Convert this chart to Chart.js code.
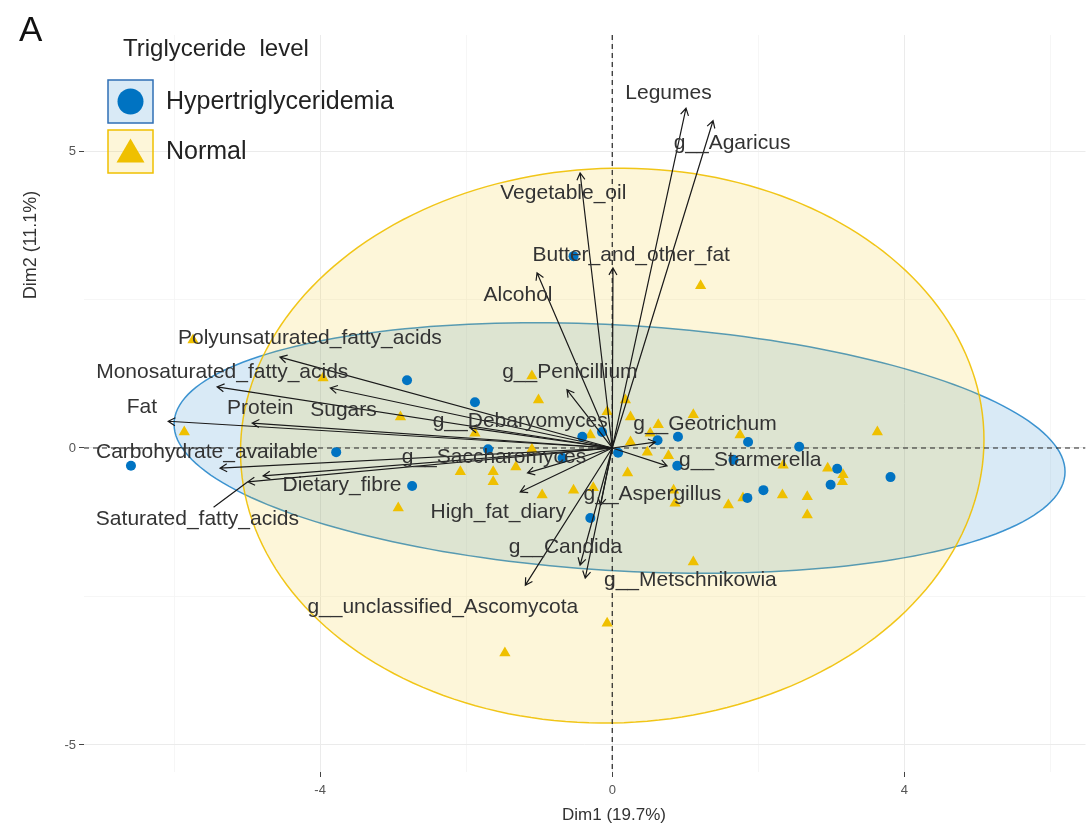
<!DOCTYPE html>
<html>
<head>
<meta charset="utf-8">
<script src="https://cdn.jsdelivr.net/npm/chart.js@4.4.1/dist/chart.umd.min.js"></script>
<style>
  html, body { margin: 0; padding: 0; background: #fff; }
  #wrap { width: 1092px; height: 830px; }
</style>
</head>
<body>
<div id="wrap"><canvas id="biplot" width="1092" height="830"></canvas></div>
<script>
// individuals (Dim1, Dim2)
const hyperX = [-6.59, -0.53, -2.81, -1.88, -3.78, -2.74, -0.30, -1.70, -0.68, -0.41, -0.14, 0.08,
  0.62, 0.90, 0.89, 1.66, 1.86, 2.56, 3.08, 2.99, 3.81, 2.07, 1.85];
const hyperY = [-0.30, 3.23, 1.14, 0.77, -0.07, -0.64, -1.18, -0.02, -0.17, 0.19, 0.27, -0.08,
  0.13, 0.19, -0.30, -0.20, 0.10, 0.02, -0.35, -0.62, -0.49, -0.71, -0.84];
const normalX = [1.21, -5.86, -5.74, -3.96, -2.90, -1.88, -2.08, -2.93, -1.10, -1.01, -1.10, -1.63,
  -1.63, -1.32, -0.96, -0.53, -0.26, 0.21, 0.84, 0.86, -0.07, 0.18, 0.25, 0.63, 0.52, 0.25, 0.48,
  0.77, -0.30, 1.11, 1.75, 3.63, 2.34, 2.95, 3.16, 3.15, 2.33, 2.67, 2.67, 1.79, 1.59, 1.11, -0.07, -1.47];
const normalY = [2.73, 0.27, 1.82, 1.18, 0.52, 0.25, -0.40, -1.01, 1.21, 0.81, -0.02, -0.40,
  -0.57, -0.32, -0.79, -0.71, -0.67, -0.42, -0.71, -0.93, 0.61, 0.81, 0.52, 0.39, 0.25, 0.10, -0.07,
  -0.13, 0.22, 0.56, 0.22, 0.27, -0.29, -0.34, -0.45, -0.57, -0.79, -0.82, -1.13, -0.84, -0.96, -1.92, -2.95, -3.45];

// variables (arrow tips) and where their labels sit
const varNames = ['Legumes', 'g__Agaricus', 'Vegetable_oil', 'Butter_and_other_fat', 'Alcohol',
  'g__Penicillium', 'Polyunsaturated_fatty_acids', 'Monosaturated_fatty_acids', 'Sugars', 'Fat',
  'Protein', 'g__Debaryomyces', 'Carbohydrate_available', 'Dietary_fibre', 'Saturated_fatty_acids',
  'g__Saccharomyces', 'High_fat_diary', 'g__Geotrichum', 'g__Starmerella', 'g__Aspergillus',
  'g__Candida', 'g__Metschnikowia', 'g__unclassified_Ascomycota'];
const varX = [1.01, 1.38, -0.44, 0.01, -1.03, -0.62, -4.55, -5.41, -3.86, -6.08, -4.93, -1.95,
  -5.37, -4.78, -4.99, -1.16, -1.26, 0.59, 0.75, -0.16, -0.44, -0.37, -1.19];
const varY = [5.72, 5.51, 4.63, 3.03, 2.95, 0.98, 1.53, 1.03, 1.01, 0.45, 0.42, 0.34,
  -0.34, -0.47, -0.57, -0.42, -0.74, 0.10, -0.30, -0.96, -1.97, -2.19, -2.31];
const labelX = [0.77, 1.64, -0.67, 0.26, -1.29, -0.58, -4.14, -5.34, -3.68, -6.44, -4.82, -1.26,
  -5.55, -3.70, -5.68, -1.62, -1.56, 1.27, 1.89, 0.55, -0.64, 1.07, -2.32];
const labelY = [5.98, 5.13, 4.29, 3.25, 2.58, 1.28, 1.85, 1.28, 0.64, 0.69, 0.67, 0.45,
  -0.07, -0.62, -1.20, -0.15, -1.08, 0.40, -0.20, -0.77, -1.67, -2.22, -2.68];
// labels pushed away from their arrow get a connector
const repelled = ['Saturated_fatty_acids'];

// concentration ellipses: centre and two conjugate semi-axes
const groups = ['Hypertriglyceridemia', 'Normal'];
const ellipseCenter = [[0.10, 0.00], [0.00, 0.04]];
const ellipseAxisA = [[6.10, -0.40], [5.09, 0.10]];
const ellipseAxisB = [[0.00, 2.07], [0.00, 4.67]];

const xTickLabels = [-4, 0, 4];
const yTickLabels = [-5, 0, 5];

const blue = '#0073C2';
const gold = '#EFC000';
const font = '"Liberation Sans", Arial, sans-serif';

function isMajor(v, list) { return list.some(t => Math.abs(t - v) < 1e-6); }

const biplotPlugin = {
  id: 'biplotPlugin',
  beforeDatasetsDraw(chart) {
    const { ctx, chartArea: a, scales: { x, y } } = chart;
    ctx.save();
    ctx.beginPath();
    ctx.rect(a.left, a.top, a.right - a.left, a.bottom - a.top);
    ctx.clip();
    const fills = ['rgba(0,115,194,0.15)', 'rgba(239,192,0,0.15)'];
    const strokes = ['rgba(0,115,194,0.75)', 'rgba(239,192,0,0.9)'];
    ellipseCenter.forEach((c, i) => {
      const A = ellipseAxisA[i], B = ellipseAxisB[i];
      ctx.beginPath();
      for (let k = 0; k <= 200; k++) {
        const t = k / 200 * Math.PI * 2;
        const px = x.getPixelForValue(c[0] + A[0] * Math.cos(t) + B[0] * Math.sin(t));
        const py = y.getPixelForValue(c[1] + A[1] * Math.cos(t) + B[1] * Math.sin(t));
        if (k === 0) ctx.moveTo(px, py); else ctx.lineTo(px, py);
      }
      ctx.closePath();
      ctx.fillStyle = fills[i];
      ctx.fill();
      ctx.lineWidth = 1.5;
      ctx.strokeStyle = strokes[i];
      ctx.stroke();
    });
    // reference lines through origin
    ctx.setLineDash([5, 4]);
    ctx.lineWidth = 1.2;
    ctx.strokeStyle = '#222';
    const x0 = x.getPixelForValue(0), y0 = y.getPixelForValue(0);
    ctx.beginPath();
    ctx.moveTo(x0, a.top); ctx.lineTo(x0, a.bottom);
    ctx.moveTo(a.left, y0); ctx.lineTo(a.right, y0);
    ctx.stroke();
    ctx.restore();
  },
  afterDatasetsDraw(chart) {
    const { ctx, scales: { x, y } } = chart;
    const x0 = x.getPixelForValue(0), y0 = y.getPixelForValue(0);
    ctx.save();
    ctx.strokeStyle = '#1a1a1a';
    ctx.lineWidth = 1.2;
    varX.forEach((vx, i) => {
      const tx = x.getPixelForValue(vx), ty = y.getPixelForValue(varY[i]);
      ctx.beginPath();
      ctx.moveTo(x0, y0);
      ctx.lineTo(tx, ty);
      const ang = Math.atan2(ty - y0, tx - x0);
      const len = 8;
      ctx.moveTo(tx - len * Math.cos(ang - Math.PI / 6), ty - len * Math.sin(ang - Math.PI / 6));
      ctx.lineTo(tx, ty);
      ctx.lineTo(tx - len * Math.cos(ang + Math.PI / 6), ty - len * Math.sin(ang + Math.PI / 6));
      if (repelled.includes(varNames[i])) {
        const lx = x.getPixelForValue(labelX[i]), ly = y.getPixelForValue(labelY[i]);
        const t = Math.max(0, (ly - 12 - ty) / (ly - ty));
        ctx.moveTo(tx, ty);
        ctx.lineTo(tx + (lx - tx) * t, ty + (ly - ty) * t);
      }
      ctx.stroke();
    });
    ctx.fillStyle = '#333';
    ctx.font = '21px ' + font;
    ctx.textAlign = 'center';
    ctx.textBaseline = 'middle';
    varNames.forEach((n, i) => {
      ctx.fillText(n, x.getPixelForValue(labelX[i]), y.getPixelForValue(labelY[i]));
    });
    ctx.restore();
  },
  afterDraw(chart) {
    const { ctx } = chart;
    ctx.save();
    ctx.fillStyle = '#111';
    ctx.font = '35px ' + font;
    ctx.textAlign = 'left';
    ctx.textBaseline = 'middle';
    ctx.fillText('A', 19, 31);
    // legend
    ctx.fillStyle = '#222';
    ctx.font = '24px ' + font;
    ctx.fillText('Triglyceride  level', 123, 49);
    const keyFill = ['rgba(0,115,194,0.15)', 'rgba(239,192,0,0.15)'];
    const keyStroke = ['#2f6fb5', gold];
    groups.forEach((g, i) => {
      const top = 80 + i * 50;
      ctx.fillStyle = keyFill[i];
      ctx.fillRect(108, top, 45, 43);
      ctx.strokeStyle = keyStroke[i];
      ctx.lineWidth = 1.5;
      ctx.strokeRect(108, top, 45, 43);
      const cx = 130.5, cy = top + 21.5;
      ctx.fillStyle = i === 0 ? blue : gold;
      ctx.beginPath();
      if (i === 0) {
        ctx.arc(cx, cy, 13, 0, Math.PI * 2);
      } else {
        ctx.moveTo(cx, cy - 13);
        ctx.lineTo(cx + 14, cy + 11);
        ctx.lineTo(cx - 14, cy + 11);
        ctx.closePath();
      }
      ctx.fill();
      ctx.fillStyle = '#222';
      ctx.font = '25px ' + font;
      ctx.fillText(g, 166, cy + 1);
    });
    // axis titles
    ctx.fillStyle = '#333';
    ctx.font = '17px ' + font;
    ctx.textAlign = 'center';
    ctx.fillText('Dim1 (19.7%)', 614, 815);
    ctx.translate(31, 245);
    ctx.rotate(-Math.PI / 2);
    ctx.font = '18px ' + font;
    ctx.fillText('Dim2 (11.1%)', 0, 0);
    ctx.restore();
  }
};

new Chart(document.getElementById('biplot').getContext('2d'), {
  type: 'scatter',
  data: {
    datasets: [
      {
        label: groups[0],
        data: hyperX.map((v, i) => ({ x: v, y: hyperY[i] })),
        pointStyle: 'circle',
        pointRadius: 5,
        backgroundColor: blue,
        borderColor: blue,
        borderWidth: 0
      },
      {
        label: groups[1],
        data: normalX.map((v, i) => ({ x: v, y: normalY[i] })),
        pointStyle: 'triangle',
        pointRadius: 6.5,
        backgroundColor: gold,
        borderColor: gold,
        borderWidth: 0
      }
    ]
  },
  options: {
    responsive: false,
    animation: false,
    layout: { padding: { top: 35, right: 0, left: 0, bottom: 0 } },
    plugins: { legend: { display: false }, tooltip: { enabled: false } },
    scales: {
      x: {
        type: 'linear',
        min: -7.233,
        max: 6.48,
        afterFit: s => { s.height = 58; s.paddingLeft = 0; s.paddingRight = 0; },
        border: { display: false },
        grid: {
          color: c => isMajor(c.tick.value, xTickLabels) ? '#ebebeb' : '#f4f4f4',
          lineWidth: c => isMajor(c.tick.value, xTickLabels) ? 1 : 0.8,
          tickColor: c => isMajor(c.tick.value, xTickLabels) ? '#444' : 'rgba(0,0,0,0)',
          tickLength: 5
        },
        ticks: {
          stepSize: 2,
          includeBounds: false,
          padding: 6,
          color: '#555',
          font: { size: 13, family: font },
          maxRotation: 0,
          callback: v => isMajor(v, xTickLabels) ? String(v) : ''
        }
      },
      y: {
        type: 'linear',
        min: -5.455,
        max: 6.953,
        afterFit: s => { s.width = 84; s.paddingTop = 0; s.paddingBottom = 0; },
        border: { display: false },
        grid: {
          color: c => isMajor(c.tick.value, yTickLabels) ? '#ebebeb' : '#f4f4f4',
          lineWidth: c => isMajor(c.tick.value, yTickLabels) ? 1 : 0.8,
          tickColor: c => isMajor(c.tick.value, yTickLabels) ? '#444' : 'rgba(0,0,0,0)',
          tickLength: 5
        },
        ticks: {
          stepSize: 2.5,
          includeBounds: false,
          padding: 3,
          color: '#555',
          font: { size: 13, family: font },
          callback: v => isMajor(v, yTickLabels) ? String(v) : ''
        }
      }
    }
  },
  plugins: [biplotPlugin]
});
</script>
</body>
</html>
